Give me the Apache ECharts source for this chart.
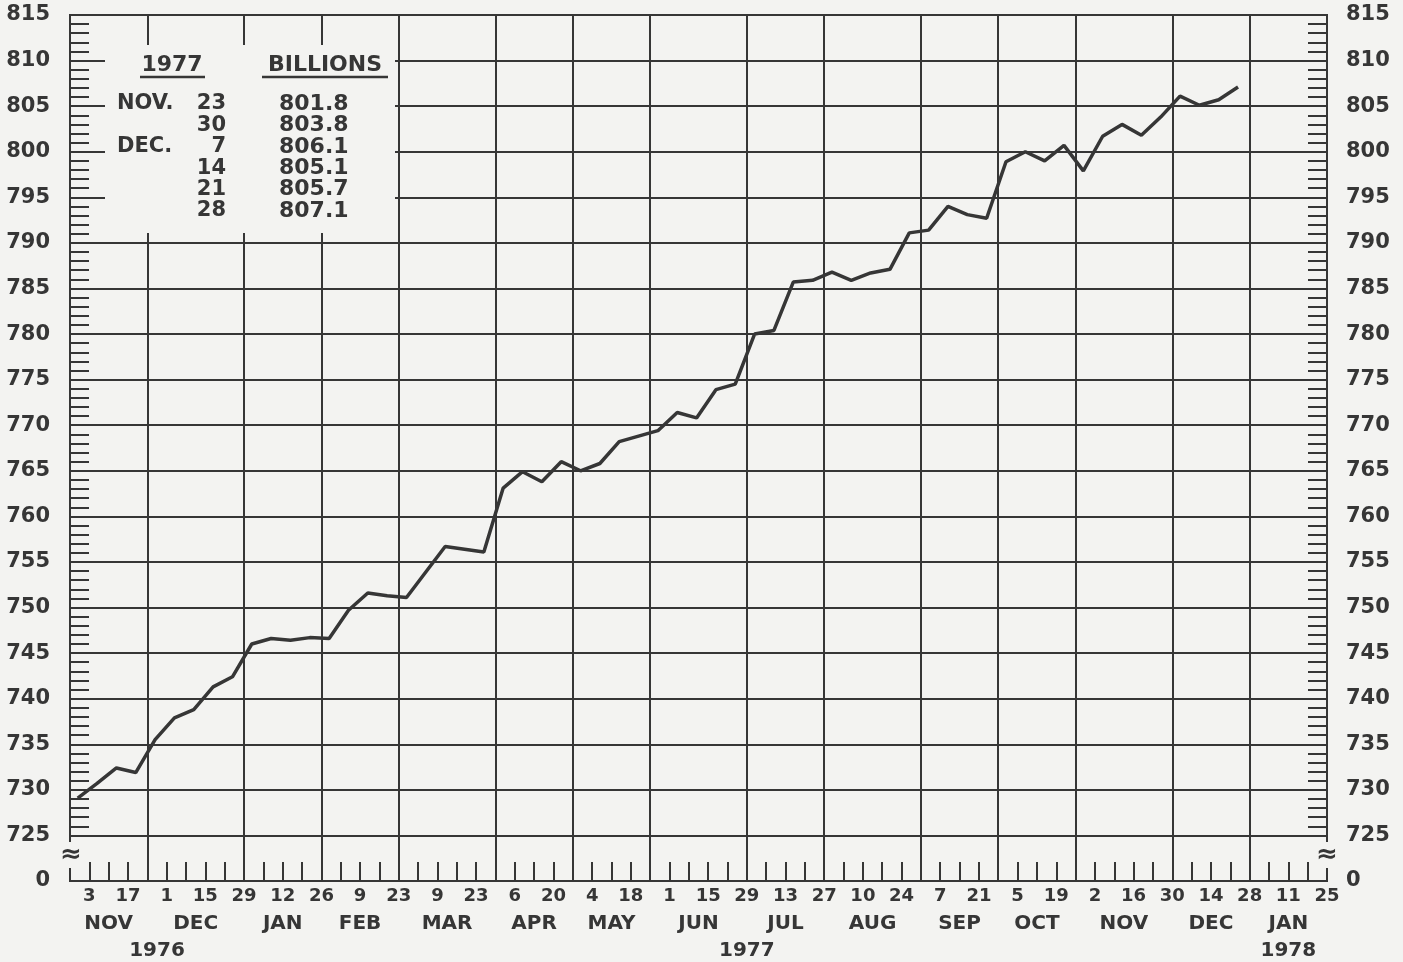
<!DOCTYPE html>
<html>
<head>
<meta charset="utf-8">
<title>Weekly series Nov 1976 - Dec 1977</title>
<script src="https://cdn.jsdelivr.net/npm/echarts@6/dist/echarts.min.js"></script>
<style>
html, body { margin: 0; padding: 0; background: #f3f3f1; }
#chart { width: 1403px; height: 962px; }
</style>
</head>
<body>
<div id="chart"></div>
<script>
// one reading per Wednesday, first one Nov 3 1976, last one Dec 28 1977 (billions)
var firstDate = '1976-11-03';
var values = [
    729.1, 730.7, 732.4, 731.9, 735.5, 737.9, 738.8, 741.3, 742.4, 746.0,
    746.6, 746.4, 746.7, 746.6, 749.7, 751.6, 751.3, 751.1, 753.9, 756.7,
    756.4, 756.1, 763.1, 764.9, 763.8, 766.0, 765.0, 765.8, 768.2, 768.8,
    769.4, 771.4, 770.8, 773.9, 774.5, 780.0, 780.4, 785.7, 785.9, 786.8,
    785.9, 786.7, 787.1, 791.1, 791.4, 794.0, 793.1, 792.7, 798.9, 800.0,
    799.0, 800.7, 797.9, 801.7, 803.0, 801.8, 803.8, 806.1, 805.1, 805.7, 807.1
];
// x axis: weekly ticks on Wednesdays
var axisStartDate = '1976-10-27';
var axisEndDate = '1978-01-25';
var monthNames = ['JAN', 'FEB', 'MAR', 'APR', 'MAY', 'JUN', 'JUL', 'AUG', 'SEP', 'OCT', 'NOV', 'DEC'];
var tableMonthNames = ['JAN.', 'FEB.', 'MAR.', 'APR.', 'MAY', 'JUNE', 'JULY', 'AUG.', 'SEPT.', 'OCT.', 'NOV.', 'DEC.'];
// y axis: 720 stands in for the broken-off 0
var yMin = 720;
var yMax = 815;
var yStep = 5;
var brokenLabel = '0';
var tableRows = 6;
var unitLabel = 'BILLIONS';

var ink = '#363636';
var paper = '#f3f3f1';
var font = '"DejaVu Sans", sans-serif';
var plotShift = 0.6; // the plotter drew each reading a little ahead of its Wednesday tick

var myChart = echarts.init(document.getElementById('chart'));

var DAY = 86400000;
function toTime(s) { return Date.parse(s + 'T00:00:00Z'); }
var t0 = toTime(axisStartDate);
var weekCount = Math.round((toTime(axisEndDate) - t0) / (7 * DAY));
function weekDate(w) { return new Date(t0 + w * 7 * DAY); }

var readingDates = values.map(function (v, i) {
    return new Date(toTime(firstDate) + i * 7 * DAY);
});
var lineData = values.map(function (v, i) {
    return [(readingDates[i].getTime() - t0) / (7 * DAY) - plotShift, v];
});

// last Wednesday of each month -> vertical grid lines
var monthEnds = [];
for (var w = 0; w <= weekCount; w++) {
    if (weekDate(w + 1).getUTCMonth() !== weekDate(w).getUTCMonth()) monthEnds.push(w);
}
var monthLabelAt = {};
var monthCenters = [];
var yearSpans = {};
for (var j = 0; j < monthEnds.length - 1; j++) {
    var mc = (monthEnds[j] + monthEnds[j + 1]) / 2;
    var md = weekDate(monthEnds[j + 1]);
    monthCenters.push(mc);
    monthLabelAt[mc] = monthNames[md.getUTCMonth()];
    var yr = md.getUTCFullYear();
    if (!yearSpans[yr]) yearSpans[yr] = [monthEnds[j], monthEnds[j + 1]];
    yearSpans[yr][1] = monthEnds[j + 1];
}
var yearLabelAt = {};
var yearCenters = [];
Object.keys(yearSpans).forEach(function (y) {
    var c = (yearSpans[y][0] + yearSpans[y][1]) / 2;
    yearCenters.push(c);
    yearLabelAt[c] = y;
});
var gridLines = monthEnds.filter(function (w) { return w > 0 && w < weekCount; })
    .map(function (w) { return { xAxis: w }; });

var minorTicks = [];
for (var mv = yMin + yStep + 1; mv < yMax; mv++) {
    if (mv % yStep !== 0) minorTicks.push(mv);
}

// small table in the top-left corner
var graphics = [
    { type: 'rect', shape: { x: 105, y: 45, width: 290, height: 188 }, style: { fill: paper }, z: 10 }
];
function txt(s, x, y, align, size) {
    graphics.push({
        type: 'text', x: x, y: y, z: 11,
        style: {
            text: s, font: 'bold ' + (size || 21) + 'px ' + font, fill: ink,
            align: align, textAlign: align, verticalAlign: 'middle', textVerticalAlign: 'middle'
        }
    });
}
function uline(x1, x2, y) {
    graphics.push({ type: 'line', z: 11, shape: { x1: x1, y1: y, x2: x2, y2: y }, style: { stroke: ink, lineWidth: 2.5 } });
}
var firstRow = values.length - tableRows;
txt(String(readingDates[firstRow].getUTCFullYear()), 172, 65, 'center', 22);
uline(140, 205, 77);
txt(unitLabel, 325, 65, 'center', 22);
uline(262, 388, 77);
for (var r = 0; r < tableRows; r++) {
    var k = firstRow + r;
    var rd = readingDates[k];
    var ry = 104 + r * 21.4;
    if (r === 0 || rd.getUTCMonth() !== readingDates[k - 1].getUTCMonth()) {
        txt(tableMonthNames[rd.getUTCMonth()], 117, ry, 'left');
    }
    txt(String(rd.getUTCDate()), 226, ry, 'right');
    txt(values[k].toFixed(1), 279, ry, 'left', 22);
}
// axis break marks
[71, 1327].forEach(function (x) {
    graphics.push({
        type: 'text', x: x, y: 855, z: 11,
        style: {
            text: '\u2248', font: 'bold 26px ' + font, fill: ink, backgroundColor: paper,
            align: 'center', textAlign: 'center', verticalAlign: 'middle', textVerticalAlign: 'middle'
        }
    });
});

var labelStyle = { color: ink, fontFamily: font, fontWeight: 'bold' };
function minorAxis(pos) {
    return {
        type: 'value', position: pos, min: yMin, max: yMax,
        axisLine: { show: false }, axisLabel: { show: false }, splitLine: { show: false },
        axisTick: { show: true, inside: true, length: 19, customValues: minorTicks, lineStyle: { color: ink, width: 2 } }
    };
}
function yLabel(v) { return v === yMin ? brokenLabel : String(v); }

var option = {
    backgroundColor: paper,
    animation: false,
    grid: {
        left: 70, right: 76, top: 15, bottom: 81,
        outerBoundsMode: 'none',
        show: true, borderColor: ink, borderWidth: 2, backgroundColor: 'transparent'
    },
    xAxis: [
        {
            type: 'value', min: 0, max: weekCount, interval: 1,
            axisLine: { show: true, lineStyle: { color: ink, width: 2 } },
            axisTick: { show: true, inside: true, length: 19, lineStyle: { color: ink, width: 2 } },
            axisLabel: Object.assign({
                fontSize: 18, margin: 6, showMinLabel: true, showMaxLabel: true,
                formatter: function (w) { return w % 2 === 1 ? String(weekDate(w).getUTCDate()) : ''; }
            }, labelStyle),
            splitLine: { show: false }
        },
        {
            type: 'value', min: 0, max: weekCount, position: 'bottom',
            axisLine: { show: false }, axisTick: { show: false }, splitLine: { show: false },
            axisLabel: Object.assign({
                fontSize: 20, margin: 33, customValues: monthCenters,
                formatter: function (c) { return monthLabelAt[c] || ''; }
            }, labelStyle)
        },
        {
            type: 'value', min: 0, max: weekCount, position: 'bottom',
            axisLine: { show: false }, axisTick: { show: false }, splitLine: { show: false },
            axisLabel: Object.assign({
                fontSize: 20, margin: 60, customValues: yearCenters,
                formatter: function (c) { return yearLabelAt[c] || ''; }
            }, labelStyle)
        }
    ],
    yAxis: [
        {
            type: 'value', position: 'left', min: yMin, max: yMax, interval: yStep,
            axisLine: { show: true, lineStyle: { color: ink, width: 2 } },
            axisTick: { show: false },
            axisLabel: Object.assign({ fontSize: 21, margin: 20, formatter: yLabel }, labelStyle),
            splitLine: { show: true, lineStyle: { color: ink, width: 2 } }
        },
        minorAxis('left'),
        {
            type: 'value', position: 'right', min: yMin, max: yMax, interval: yStep,
            axisLine: { show: true, lineStyle: { color: ink, width: 2 } },
            axisTick: { show: false },
            axisLabel: Object.assign({ fontSize: 21, margin: 19, formatter: yLabel }, labelStyle),
            splitLine: { show: false }
        },
        minorAxis('right')
    ],
    graphic: graphics,
    series: [{
        type: 'line',
        xAxisIndex: 0,
        yAxisIndex: 0,
        data: lineData,
        showSymbol: false,
        symbol: 'none',
        lineStyle: { color: ink, width: 3.5 },
        z: 3,
        markLine: {
            silent: true,
            symbol: ['none', 'none'],
            label: { show: false },
            lineStyle: { color: ink, width: 2, type: 'solid' },
            data: gridLines
        }
    }]
};
myChart.setOption(option);
</script>
</body>
</html>
